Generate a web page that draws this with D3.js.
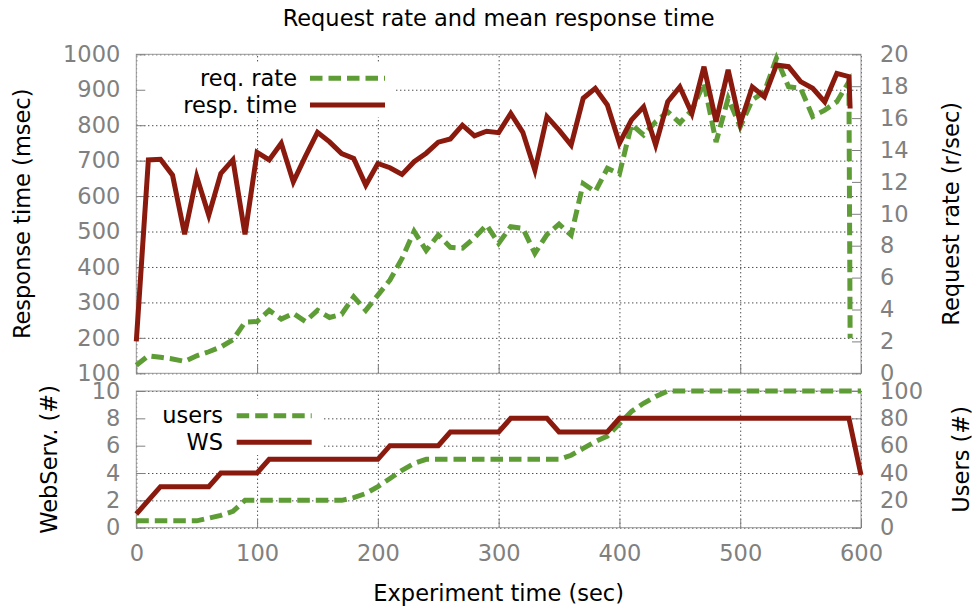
<!DOCTYPE html>
<html>
<head>
<meta charset="utf-8">
<script src="https://cdn.jsdelivr.net/npm/d3@7"></script>
<style>
  html, body { margin: 0; padding: 0; background: #fff; }
  svg { display: block; font-family: "DejaVu Sans", sans-serif; }
</style>
</head>
<body>
<svg id="chart" width="973" height="608"></svg>
<script>
// ---------------- DATA ----------------
const timeTop = [0,10,20,30,40,50,60,70,80,90,100,110,120,130,140,150,160,170,180,190,
  200,210,220,230,240,250,260,270,280,290,300,310,320,330,340,350,360,370,380,390,
  400,410,420,430,440,450,460,470,480,490,500,510,520,530,540,550,560,570,580,590,591];
const respTime = [190,702,704,659,492,655,546,664,702,492,723,702,749,640,712,780,753,720,706,631,
  692,680,661,697,721,752,761,800,770,783,779,833,780,673,824,786,744,876,904,857,
  749,815,852,744,866,908,833,965,810,956,805,908,880,970,965,923,904,866,946,937,847];
const reqRate = [0.5,1.1,1.0,0.9,0.75,1.1,1.35,1.65,2.1,3.2,3.25,3.95,3.4,3.75,3.25,3.95,3.5,3.7,4.8,3.95,
  4.9,5.85,7.2,8.9,7.7,8.67,7.9,7.85,8.5,9.3,8.15,9.19,9.09,7.52,8.7,9.35,8.67,11.9,11.39,12.85,
  12.5,15.6,14.94,15.77,16.4,15.7,16.5,18.2,14.5,17.24,15.46,17.13,17.66,19.75,17.97,17.87,16.1,16.5,17.03,18.28,2.2];

const timeBottom = [0,10,20,30,40,50,60,70,80,90,100,110,120,130,140,150,160,170,180,190,
  200,210,220,230,240,250,260,270,280,290,300,310,320,330,340,350,360,370,380,390,
  400,410,420,430,440,450,460,470,480,490,500,510,520,530,540,550,560,570,580,590,600];
const webServers = [1,2,3,3,3,3,3,4,4,4,4,5,5,5,5,5,5,5,5,5,
  5,6,6,6,6,6,7,7,7,7,7,8,8,8,8,7,7,7,7,7,
  8,8,8,8,8,8,8,8,8,8,8,8,8,8,8,8,8,8,8,8,3.85];
const users = [5,5,5,5,5,5,7,9,12,20,20,20,20,20,20,20,20,20,22,25,
  30,36,42,47,50,50,50,50,50,50,50,50,50,50,50,50,53,58,63,67,
  76,85,91,96,100,100,100,100,100,100,100,100,100,100,100,100,100,100,100,100,100];

const xTicks = [0,100,200,300,400,500,600];
const msTicks = [100,200,300,400,500,600,700,800,900,1000];
const rateTicks = [0,2,4,6,8,10,12,14,16,18,20];
const wsTicks = [0,2,4,6,8,10];
const userTicks = [0,20,40,60,80,100];

const titleText = "Request rate and mean response time";
const xLabel = "Experiment time (sec)";
const yTopLeftLabel = "Response time (msec)";
const yTopRightLabel = "Request rate (r/sec)";
const yBotLeftLabel = "WebServ. (#)";
const yBotRightLabel = "Users (#)";

// ---------------- LAYOUT ----------------
const RED = "#8b1a0e", GREEN = "#5e9c36", TICKGREY = "#808080", BORDER = "#999";
const FS = 22.5;
const X0 = 136.3, X1 = 861;
const T0 = 54.3, T1 = 373.3;   // top panel
const B0 = 391, B1 = 527.7;    // bottom panel
const fmt = d3.format("d");

const svg = d3.select("#chart");
const x = d3.scaleLinear().domain([0,600]).range([X0,X1]);
const yMs = d3.scaleLinear().domain([100,1000]).range([T1,T0]);
const yRate = d3.scaleLinear().domain([0,20]).range([T1,T0]);
const yWS = d3.scaleLinear().domain([0,10]).range([B1,B0]);
const yUsers = d3.scaleLinear().domain([0,100]).range([B1,B0]);

function styleGrid(g) {
  g.select(".domain").remove();
  g.selectAll("line").attr("stroke","#000").attr("stroke-width",1).attr("stroke-dasharray","1,3");
}
function styleTicks(g) {
  g.select(".domain").remove();
  g.selectAll("line").attr("stroke",TICKGREY).attr("stroke-width",1);
}
function styleLabels(g) {
  g.select(".domain").remove();
  g.selectAll("line").remove();
  g.selectAll("text").attr("fill",TICKGREY).attr("font-size",FS).attr("font-family","DejaVu Sans");
}

function panel(top, bottom, yL, yR, leftTicks, rightTicks, showXLabels, legendBox) {
  // grid
  svg.append("g").attr("transform",`translate(${X0},0)`)
    .call(d3.axisLeft(yL).tickValues(leftTicks).tickSize(-(X1-X0)).tickFormat(""))
    .call(styleGrid);
  svg.append("g").attr("transform",`translate(0,${bottom})`)
    .call(d3.axisBottom(x).tickValues(xTicks).tickSize(-(bottom-top)).tickFormat(""))
    .call(styleGrid);
  // legend box (opaque)
  svg.append("rect").attr("x",legendBox[0]).attr("y",legendBox[1])
    .attr("width",legendBox[2]).attr("height",legendBox[3]).attr("fill","#fff");
  // border
  svg.append("rect").attr("x",X0).attr("y",top).attr("width",X1-X0).attr("height",bottom-top)
    .attr("fill","none").attr("stroke",BORDER).attr("stroke-width",1);
  // inward ticks
  svg.append("g").attr("transform",`translate(${X0},0)`)
    .call(d3.axisRight(yL).tickValues(leftTicks).tickSize(9).tickFormat("")).call(styleTicks);
  svg.append("g").attr("transform",`translate(${X1},0)`)
    .call(d3.axisLeft(yR).tickValues(rightTicks).tickSize(9).tickFormat("")).call(styleTicks);
  svg.append("g").attr("transform",`translate(0,${bottom})`)
    .call(d3.axisTop(x).tickValues(xTicks).tickSize(9).tickFormat("")).call(styleTicks);
  // labels
  svg.append("g").attr("transform",`translate(${X0},0)`)
    .call(d3.axisLeft(yL).tickValues(leftTicks).tickSize(0).tickPadding(16).tickFormat(fmt)).call(styleLabels);
  svg.append("g").attr("transform",`translate(${X1},0)`)
    .call(d3.axisRight(yR).tickValues(rightTicks).tickSize(0).tickPadding(19).tickFormat(fmt)).call(styleLabels);
  if (showXLabels) {
    svg.append("g").attr("transform",`translate(0,${bottom})`)
      .call(d3.axisBottom(x).tickValues(xTicks).tickSize(0).tickPadding(17).tickFormat(fmt)).call(styleLabels);
  }
}

panel(T0, T1, yMs, yRate, msTicks, rateTicks, false, [X0+1, 62, 396-X0-1, 55]);
panel(B0, B1, yWS, yUsers, wsTicks, userTicks, true, [X0+1, 399, 322-X0-1, 56]);

// ---------------- SERIES ----------------
function drawLine(xs, ys, yScale, color, dashed) {
  const pts = xs.map((t,i)=>[t, ys[i]]);
  const line = d3.line().x(d=>x(d[0])).y(d=>yScale(d[1]));
  const p = svg.append("path").datum(pts).attr("d",line)
    .attr("fill","none").attr("stroke",color).attr("stroke-width",5)
    .attr("stroke-linejoin","miter").attr("stroke-miterlimit",4).attr("stroke-linecap","butt");
  if (dashed) p.attr("stroke-dasharray","12.5,6");
}
drawLine(timeTop, reqRate, yRate, GREEN, true);
drawLine(timeTop, respTime, yMs, RED, false);
drawLine(timeBottom, users, yUsers, GREEN, true);
drawLine(timeBottom, webServers, yWS, RED, false);

// ---------------- LEGENDS ----------------
function legendEntry(tx, y, label, x1, x2, color, dashed) {
  svg.append("text").attr("x",tx).attr("y",y+7.5).attr("text-anchor","end")
    .attr("font-size",FS).attr("fill","#000").text(label);
  const l = svg.append("line").attr("x1",x1).attr("x2",x2).attr("y1",y).attr("y2",y)
    .attr("stroke",color).attr("stroke-width",5);
  if (dashed) l.attr("stroke-dasharray","12.5,6");
}
legendEntry(297, 78.3, "req. rate", 310, 385, GREEN, true);
legendEntry(297, 105, "resp. time", 310, 385, RED, false);
legendEntry(223, 415.7, "users", 236.7, 311.7, GREEN, true);
legendEntry(223, 442.3, "WS", 236.7, 311.7, RED, false);

// ---------------- TITLES ----------------
svg.append("text").attr("x",(X0+X1)/2).attr("y",26).attr("text-anchor","middle")
  .attr("font-size",FS).attr("fill","#000").text(titleText);
svg.append("text").attr("x",(X0+X1)/2).attr("y",601).attr("text-anchor","middle")
  .attr("font-size",FS).attr("fill","#000").text(xLabel);
function vLabel(cx, cy, txt) {
  svg.append("text").attr("transform",`translate(${cx},${cy}) rotate(-90)`)
    .attr("text-anchor","middle").attr("font-size",FS).attr("fill","#000").text(txt);
}
vLabel(30, (T0+T1)/2, yTopLeftLabel);
vLabel(959, (T0+T1)/2, yTopRightLabel);
vLabel(57, (B0+B1)/2, yBotLeftLabel);
vLabel(969, (B0+B1)/2, yBotRightLabel);
</script>
</body>
</html>
